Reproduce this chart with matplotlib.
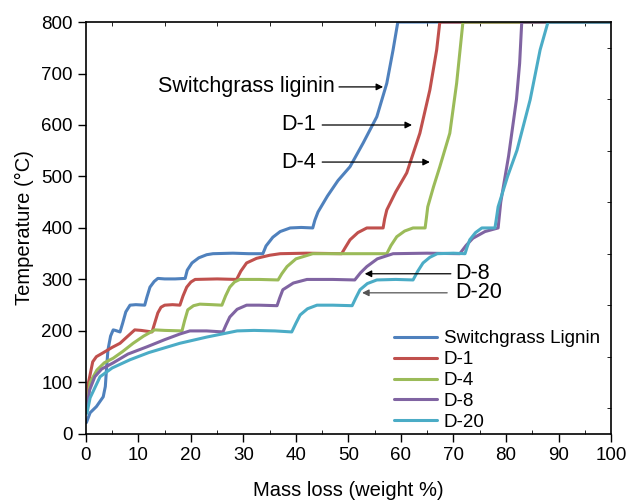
import matplotlib
matplotlib.use("Agg")
import matplotlib.pyplot as plt
from matplotlib.ticker import MultipleLocator

plt.rcParams['font.family'] = ['Liberation Sans', 'DejaVu Sans']

series_names = ["Switchgrass Lignin", "D-1", "D-4", "D-8", "D-20"]
colors = ["#4F81BD", "#C0504D", "#9BBB59", "#8064A2", "#4BACC6"]

sg_x = [0.1, 0.8, 2.0, 3.3, 3.7, 3.95, 4.2, 4.7, 5.2, 5.6, 6.5, 7.0, 7.6, 8.4, 9.5, 11.2, 11.6, 12.2, 13.0, 13.7, 15, 17, 18.9, 19.3, 20.2, 21.5, 23, 24.2, 28, 31, 33.7, 34.3, 35.6, 37, 38.9, 41, 43.2, 43.6, 44.2, 46, 48, 50.3, 52.8, 55.4, 57.3, 58.5, 59.4, 100]
sg_T = [22, 41, 53, 72, 92, 130, 163, 190, 202, 201, 198, 215, 237, 250, 251, 250, 265, 285, 296, 302, 301, 301, 302, 318, 332, 342, 348, 350, 351, 350, 350, 365, 382, 393, 400, 401, 400, 415, 431, 462, 492, 519, 565, 616, 681, 746, 800, 800]

d1_x = [0.2, 0.5, 1.3, 2, 3.2, 5, 6.5, 8, 9.3, 10.5, 12.6, 13.1, 13.7, 14.3, 15, 16.5, 17.9, 18.5, 19.2, 20, 20.8, 25, 28.7, 29.5, 30.6, 32.5, 35, 37, 42, 48.7, 49.4, 50.3, 51.8, 53.5, 55, 56.6, 56.9, 57.3, 59, 61.1, 63.6, 65.5, 66.8, 67.4, 100]
d1_T = [66, 100, 140, 150, 157, 168, 176, 190, 202, 201, 198, 215, 235, 246, 250, 251, 250, 268, 285, 295, 300, 301, 300, 316, 332, 341, 347, 350, 351, 350, 362, 377, 391, 400, 400, 400, 418, 435, 470, 507, 584, 668, 746, 800, 800]

d4_x = [0.2, 0.8, 2.1, 3.5, 5.2, 7, 9, 11, 13.1, 15, 18.3, 18.8, 19.4, 20.5, 21.7, 24, 25.9, 26.6, 27.4, 28.3, 29.3, 33, 36.6, 37.3, 38.3, 40, 43.2, 50, 57.3, 58.1, 59.2, 60.7, 62.3, 63.5, 64.6, 64.85, 65.1, 66.2, 67.4, 69.3, 70.6, 71.8, 100]
d4_T = [55, 100, 124, 138, 147, 160, 176, 190, 202, 201, 200, 220, 241, 249, 252, 251, 250, 268, 285, 295, 300, 300, 299, 311, 325, 340, 350, 350, 350, 366, 383, 394, 400, 400, 400, 420, 441, 480, 519, 584, 681, 800, 800]

d8_x = [0.2, 0.7, 1.7, 3, 5.2, 8, 11.6, 15, 17.9, 19.8, 23, 26.1, 26.7, 27.4, 28.8, 30.6, 33, 36.4, 36.9, 37.5, 39.5, 42.1, 47, 51.2, 52.3, 53.5, 55.5, 58.5, 65, 71.2, 72.4, 73.7, 76, 78.5, 79.0, 80.5, 82.0, 82.6, 83.0, 100]
d8_T = [50, 85, 111, 126, 138, 155, 169, 183, 194, 200, 200, 198, 212, 227, 242, 250, 250, 249, 264, 280, 293, 300, 300, 299, 313, 325, 340, 350, 351, 350, 366, 380, 393, 400, 450, 540, 650, 720, 800, 800]

d20_x = [0.2, 0.8, 2.7, 5, 8.4, 12, 17.9, 23, 28.8, 32, 36, 39.2, 40, 40.8, 42.2, 44, 47, 50.7, 51.4, 52.2, 53.6, 55.4, 59, 62.3, 63.2, 64.2, 65.5, 66.9, 70, 72.2, 72.6, 73.1, 74.2, 75.4, 76.5, 77.9, 78.2, 78.5, 80.3, 82.1, 84.6, 86.5, 88, 100]
d20_T = [40, 70, 111, 128, 144, 158, 176, 188, 200, 201, 200, 198, 215, 231, 243, 250, 250, 249, 264, 280, 292, 299, 300, 299, 316, 332, 343, 350, 351, 350, 363, 377, 391, 400, 400, 400, 420, 441, 500, 551, 649, 746, 800, 800]

xs = [sg_x, d1_x, d4_x, d8_x, d20_x]
Ts = [sg_T, d1_T, d4_T, d8_T, d20_T]

fig = plt.figure(figsize=(6.27, 5.01), dpi=100)
ax = fig.add_axes([0.137, 0.134, 0.8375, 0.822])

for x, T, c, n in zip(xs, Ts, colors, series_names):
    ax.plot(x, T, color=c, lw=2.2, label=n, solid_joinstyle='round', solid_capstyle='round')

ax.set_xlim(0, 100)
ax.set_ylim(0, 800)
ax.xaxis.set_major_locator(MultipleLocator(10))
ax.xaxis.set_minor_locator(MultipleLocator(5))
ax.yaxis.set_major_locator(MultipleLocator(100))
ax.yaxis.set_minor_locator(MultipleLocator(50))
ax.tick_params(axis='both', which='major', direction='out', length=6, width=1, labelsize=13.5,
               top=False, right=False)
ax.tick_params(axis='both', which='minor', direction='in', length=3, width=0.6,
               top=True, right=True, left=False, bottom=True)
for s in ax.spines.values():
    s.set_linewidth(1.2)

ax.set_xlabel("Mass loss (weight %)", fontsize=14.5, labelpad=12)
ax.set_ylabel("Temperature (°C)", fontsize=14.5, labelpad=5)

fs_ann = 15.5
arrow = dict(arrowstyle='-|>', color='black', lw=0.9, mutation_scale=10, shrinkA=0, shrinkB=0)
ax.annotate("", xy=(56.6, 674), xytext=(48.2, 674), arrowprops=arrow)
ax.text(47.4, 674, "Switchgrass liginin", ha='right', va='center', fontsize=fs_ann)
ax.annotate("", xy=(62.1, 600), xytext=(45.0, 600), arrowprops=arrow)
ax.text(43.8, 600, "D-1", ha='right', va='center', fontsize=fs_ann)
ax.annotate("", xy=(65.5, 528), xytext=(45.0, 528), arrowprops=arrow)
ax.text(43.8, 528, "D-4", ha='right', va='center', fontsize=fs_ann)
ax.annotate("", xy=(53.1, 311), xytext=(69.5, 311), arrowprops=arrow)
ax.text(70.3, 311, "D-8", ha='left', va='center', fontsize=fs_ann)
arrow2 = dict(arrow, color='#555555')
ax.annotate("", xy=(52.6, 274), xytext=(68.8, 274), arrowprops=arrow2)
ax.text(70.3, 274, "D-20", ha='left', va='center', fontsize=fs_ann)

ax.legend(loc='lower right', frameon=False, fontsize=13.5, handlelength=2.3,
          handletextpad=0.35, labelspacing=0.2, borderaxespad=0.2,
          bbox_to_anchor=(1.0, -0.02))

fig.savefig("out.png", dpi=100)
